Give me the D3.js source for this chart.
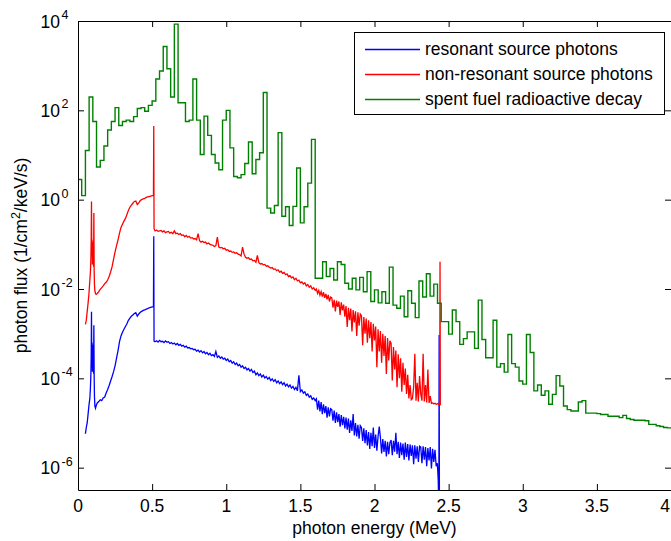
<!DOCTYPE html>
<html>
<head>
<meta charset="utf-8">
<script src="https://cdn.jsdelivr.net/npm/d3@7"></script>
<style>
  body { margin: 0; background: #fff; }
  svg { display: block; font-family: Arial, "Liberation Sans", sans-serif; }
  .axis path, .axis line { stroke: #000; }
</style>
</head>
<body>
<svg id="chart" width="671" height="541"></svg>
<script>
// ---- data (log10 of photon flux, 1/cm^2/keV/s) ----
var xTicks = [0, 0.5, 1, 1.5, 2, 2.5, 3, 3.5, 4];
var yTickExps = [-6, -4, -2, 0, 2, 4];
var seriesNames = ["resonant source photons", "non-resonant source photons", "spent fuel radioactive decay"];
var seriesColors = ["#0000ff", "#ff0000", "#008000"];

// sample energies of the two source spectra (MeV)
var energyLow = [0.050, 0.056, 0.062, 0.068, 0.074, 0.080, 0.084, 0.087, 0.089, 0.091, 0.093, 0.095, 0.097,
                 0.099, 0.101, 0.103, 0.105, 0.107, 0.109, 0.111, 0.114, 0.118, 0.122, 0.126, 0.130];
var energyPeak = [0.505, 0.509, 0.511, 0.513, 0.517];
var energyEdge = [2.424, 2.430, 2.434, 2.436, 2.438, 2.440, 2.442, 2.444];

var resonantLog = [
  // 0.05 - 0.13
  -5.24, -5.10, -5.00, -4.80, -4.60, -4.45, -4.20, -3.90, -3.50, -2.51, -3.70, -3.20, -3.85,
  -3.30, -3.80, -3.25, -3.90, -2.81, -3.95, -4.40, -4.62, -4.67, -4.62, -4.58, -4.55,
  // 0.14 - 0.50
  -4.52, -4.48, -4.50, -4.44, -4.42, -4.33, -4.25, -4.16, -4.06, -3.96,
  -3.85, -3.72, -3.55, -3.38, -3.18, -3.05, -2.97, -2.90, -2.84, -2.78,
  -2.70, -2.65, -2.61, -2.58, -2.55, -2.53, -2.61, -2.56, -2.52, -2.50,
  -2.48, -2.47, -2.45, -2.44, -2.42, -2.41, -2.40,
  // 511 keV
  -2.40, -2.39, -0.82, -3.17, -3.18,
  // 0.52 - 1.60
  -3.18, -3.16, -3.19, -3.15, -3.18, -3.17, -3.20, -3.16, -3.19,
  -3.18, -3.22, -3.20, -3.23, -3.21, -3.25, -3.22, -3.26, -3.24, -3.28,
  -3.26, -3.30, -3.28, -3.32, -3.31, -3.34, -3.33, -3.36, -3.35, -3.39,
  -3.37, -3.41, -3.38, -3.43, -3.40, -3.45, -3.42, -3.47, -3.44, -3.49,
  -3.47, -3.51, -3.40, -3.53, -3.50, -3.55, -3.52, -3.57, -3.55, -3.60,
  -3.57, -3.63, -3.60, -3.66, -3.63, -3.69, -3.66, -3.72, -3.69, -3.75,
  -3.72, -3.78, -3.75, -3.81, -3.78, -3.84, -3.80, -3.87, -3.84, -3.92,
  -3.88, -3.94, -3.90, -3.97, -3.93, -3.99, -3.96, -4.02, -3.98, -4.05,
  -4.01, -4.07, -4.03, -4.10, -4.06, -4.12, -4.08, -4.14, -4.10, -4.17,
  -4.13, -4.19, -4.15, -4.22, -4.18, -4.25, -4.20, -4.28, -3.93, -4.30,
  -4.26, -4.33, -4.30, -4.38, -4.35, -4.42, -4.39, -4.47, -4.44, -4.50,
  // 1.608 - 2.416
  -4.46, -4.70, -4.50, -4.74, -4.53, -4.80, -4.58, -4.78, -4.62, -4.88, -4.65, -4.85, -4.68,
  -4.70, -4.95, -4.72, -5.00, -4.76, -4.98, -4.80, -5.08, -4.82, -5.05, -4.86, -5.12,
  -4.88, -5.15, -4.90, -5.22, -4.94, -5.18, -4.80, -5.28, -5.00, -5.30, -5.04, -5.35, -5.06,
  -5.10, -5.40, -5.12, -5.45, -5.16, -5.50, -5.20, -5.58, -5.22, -5.52, -5.10, -5.56,
  -5.26, -5.62, -5.30, -5.08, -5.33, -5.68, -5.36, -5.65, -5.40, -5.75, -5.42, -5.70, -5.44,
  -5.38, -5.72, -5.40, -5.64, -5.22, -5.70, -5.42, -5.78, -5.44, -5.72, -5.46, -5.82,
  -5.44, -5.76, -5.47, -5.84, -5.48, -5.74, -5.50, -5.92, -5.50, -5.80, -5.52, -5.87, -5.52,
  -5.54, -5.90, -5.52, -5.82, -5.54, -5.97, -5.56, -5.84, -5.54, -6.02, -5.58, -5.87, -5.60, -5.97,
  // edge
  -5.90, -6.30, -7.00, -3.03, -7.00, -7.00, -7.00, -7.00
];

var nonResonantLog = [
  // 0.05 - 0.13
  -2.79, -2.70, -2.50, -2.32, -2.10, -1.80, -1.60, -1.30, -0.90, -0.04, -1.20, -0.90, -1.45,
  -0.95, -1.40, -1.00, -1.50, -0.30, -1.60, -1.90, -2.05, -2.10, -2.12, -2.11, -2.10,
  // 0.14 - 0.50
  -2.06, -2.01, -1.97, -1.93, -1.88, -1.85, -1.80, -1.72, -1.62, -1.50,
  -1.33, -1.17, -1.03, -0.90, -0.75, -0.62, -0.55, -0.48, -0.42, -0.33,
  -0.24, -0.17, -0.12, -0.08, -0.04, -0.03, -0.11, -0.07, -0.02, 0.00,
  0.02, 0.03, 0.05, 0.06, 0.07, 0.08, 0.09,
  // 511 keV
  0.09, 0.10, 1.65, -0.65, -0.68,
  // 0.52 - 1.60
  -0.70, -0.68, -0.71, -0.70, -0.69, -0.72, -0.70, -0.74, -0.72,
  -0.71, -0.75, -0.73, -0.76, -0.70, -0.76, -0.75, -0.78, -0.76, -0.80,
  -0.79, -0.83, -0.80, -0.84, -0.82, -0.86, -0.85, -0.88, -0.87, -0.90,
  -0.76, -0.92, -0.95, -0.93, -0.96, -0.95, -0.99, -0.97, -1.00, -1.01,
  -1.02, -1.05, -1.03, -0.84, -1.06, -1.08, -1.07, -1.10, -1.09, -1.13,
  -1.12, -1.16, -1.15, -1.18, -1.17, -1.20, -1.19, -1.22, -1.23, -1.26,
  -1.06, -1.22, -1.29, -1.31, -1.30, -1.34, -1.33, -1.37, -1.36, -1.40,
  -1.25, -1.41, -1.44, -1.43, -1.46, -1.45, -1.49, -1.48, -1.51, -1.53,
  -1.52, -1.56, -1.55, -1.59, -1.57, -1.62, -1.60, -1.65, -1.63, -1.68,
  -1.66, -1.72, -1.70, -1.75, -1.73, -1.79, -1.76, -1.82, -1.80, -1.86,
  -1.84, -1.89, -1.86, -1.93, -1.90, -1.96, -1.93, -2.00, -1.97, -2.03,
  // 1.608 - 2.416
  -2.00, -2.10, -2.03, -2.14, -2.06, -2.17, -2.07, -2.20, -2.11, -2.23, -2.13, -2.28, -2.18,
  -2.20, -2.42, -2.24, -2.50, -2.26, -2.40, -2.28, -2.58, -2.30, -2.48, -2.35, -2.62,
  -2.38, -2.85, -2.42, -2.70, -2.44, -2.95, -2.47, -2.75, -2.50, -3.05, -2.52, -2.82, -2.56,
  -2.60, -3.26, -2.63, -3.00, -2.66, -3.20, -2.70, -3.10, -2.74, -3.40, -2.78, -3.15,
  -2.84, -3.75, -2.90, -3.40, -2.94, -3.65, -3.00, -3.50, -3.05, -3.90, -3.10, -3.60, -3.16,
  -3.22, -4.05, -3.30, -3.80, -3.38, -4.20, -3.46, -4.00, -3.55, -4.30, -3.65, -4.15,
  -3.78, -4.35, -3.92, -4.45, -4.15, -4.48,
  -4.45, -4.20, -3.45, -4.50, -4.10, -4.52, -3.95, -4.35, -4.50, -3.45, -4.52, -4.15, -4.54,
  -3.80, -4.55, -4.40, -4.56, -4.55, -4.57, -4.56, -4.58,
  // edge
  -4.57, -4.56, -4.58, -4.57, -4.58, -4.58, -1.39, -4.60
];

// spent fuel: histogram with 0.025 MeV bins from 0 to 4 MeV
var decayBinWidth = 0.025;
var decayLog = [
  0.45, 0.09, 1.10, 2.30, 1.75, 0.73, 0.88, 1.20, 1.56, 1.75,
  2.06, 1.66, 1.75, 1.78, 1.75, 1.86, 2.04, 2.06, 1.98, 2.11,
  2.21, 2.70, 2.88, 3.43, 2.93, 2.30, 3.93, 2.17, 2.17, 1.75,
  1.78, 2.70, 1.78, 1.01, 1.87, 1.44, 1.01, 0.82, 0.67, 1.78,
  2.00, 1.16, 0.52, 0.49, 0.56, 0.81, 1.29, 0.58, 0.90, 1.05,
  2.40, -0.19, -0.30, -0.13, 1.50, -0.37, -0.16, -0.58, -0.15, 0.71,
  -0.52, -0.16, 0.37, 1.35, -1.76, -1.76, -1.39, -1.72, -1.54, -1.80,
  -1.39, -1.45, -1.87, -2.00, -1.76, -2.02, -1.74, -2.06, -1.61, -2.28,
  -2.02, -2.31, -2.06, -2.32, -1.51, -2.36, -2.43, -2.16, -2.62, -2.04,
  -2.32, -2.64, -1.82, -2.18, -1.66, -2.16, -1.89, -2.32, -2.73, -2.73,
  -3.01, -2.47, -2.73, -3.24, -3.11, -2.96, -2.96, -3.33, -2.25, -3.13,
  -3.54, -3.54, -2.70, -3.75, -3.67, -3.86, -3.02, -3.67, -3.75, -4.06,
  -4.13, -3.02, -3.42, -4.28, -4.15, -4.38, -4.28, -4.58, -4.36, -3.94,
  -4.17, -4.62, -4.70, -4.73, -4.73, -4.53, -4.50, -4.78, -4.78, -4.78,
  -4.79, -4.81, -4.81, -4.85, -4.85, -4.85, -4.88, -4.83, -4.90, -4.92,
  -4.94, -4.94, -4.94, -4.95, -5.03, -5.03, -5.06, -5.08, -5.10, -5.11
];

// ---- layout ----
var fontSize = 17.5;
var plot = { left: 78, right: 671, top: 21, bottom: 490 };

var svg = d3.select("#chart");

var x = d3.scaleLinear().domain([0, 4]).range([plot.left, plot.right]);
var y = d3.scaleLog().domain([Math.pow(10, -6.5), 1e4]).range([plot.bottom, plot.top]);

function evenGrid(start, step, n) {
  return d3.range(n).map(function (i) { return +(start + i * step).toFixed(3); });
}
var energy = [].concat(energyLow, evenGrid(0.14, 0.01, 37), energyPeak,
                       evenGrid(0.52, 0.01, 109), evenGrid(1.608, 0.008, 102), energyEdge);
if (energy.length !== resonantLog.length || energy.length !== nonResonantLog.length) {
  console.log("length mismatch", energy.length, resonantLog.length, nonResonantLog.length);
}

var resonant = energy.map(function (e, i) { return [e, Math.pow(10, resonantLog[i])]; });
var nonResonant = energy.map(function (e, i) { return [e, Math.pow(10, nonResonantLog[i])]; });
var decay = decayLog.map(function (v, i) { return [i * decayBinWidth, Math.pow(10, v)]; });
decay.push([decayLog.length * decayBinWidth, Math.pow(10, decayLog[decayLog.length - 1])]);

svg.append("defs").append("clipPath").attr("id", "plot-clip")
  .append("rect")
  .attr("x", plot.left).attr("y", plot.top)
  .attr("width", plot.right - plot.left).attr("height", plot.bottom - plot.top);

var line = d3.line().x(function (d) { return x(d[0]); }).y(function (d) { return y(d[1]); });
var stairs = d3.line().curve(d3.curveStepAfter)
  .x(function (d) { return x(d[0]); }).y(function (d) { return y(d[1]); });

var lines = svg.append("g").attr("clip-path", "url(#plot-clip)");
var series = [
  { data: resonant, color: seriesColors[0], width: 1.3, gen: line },
  { data: nonResonant, color: seriesColors[1], width: 1.3, gen: line },
  { data: decay, color: seriesColors[2], width: 1.4, gen: stairs }
];
series.forEach(function (s) {
  lines.append("path")
    .attr("d", s.gen(s.data))
    .attr("fill", "none")
    .attr("stroke", s.color)
    .attr("stroke-width", s.width)
    .attr("stroke-linejoin", "miter");
});

// ---- axes (box with inward ticks) ----
var yTicks = yTickExps.map(function (e) { return Math.pow(10, e); });

svg.append("g").attr("class", "axis")
  .attr("transform", "translate(0," + plot.bottom + ")")
  .call(d3.axisBottom(x).tickValues(xTicks).tickSizeInner(-6).tickSizeOuter(0).tickFormat(""));
svg.append("g").attr("class", "axis")
  .attr("transform", "translate(0," + plot.top + ")")
  .call(d3.axisTop(x).tickValues(xTicks).tickSizeInner(-6).tickSizeOuter(0).tickFormat(""));
svg.append("g").attr("class", "axis")
  .attr("transform", "translate(" + plot.left + ",0)")
  .call(d3.axisLeft(y).tickValues(yTicks).tickSizeInner(-6).tickSizeOuter(0).tickFormat(""));
svg.append("g").attr("class", "axis")
  .attr("transform", "translate(" + plot.right + ",0)")
  .call(d3.axisRight(y).tickValues(yTicks).tickSizeInner(-6).tickSizeOuter(0).tickFormat(""));

// x tick labels (the last one is pulled inside the window edge)
svg.append("g").selectAll("text")
  .data(xTicks)
  .enter().append("text")
  .attr("x", function (d, i) { return i === xTicks.length - 1 ? 670 : x(d); })
  .attr("y", 512)
  .attr("text-anchor", function (d, i) { return i === xTicks.length - 1 ? "end" : "middle"; })
  .attr("font-size", fontSize)
  .text(function (d) { return d; });

// y tick labels as 10^n
var yLab = svg.append("g").selectAll("g")
  .data(yTickExps)
  .enter().append("g");
yLab.append("text")
  .attr("x", 60)
  .attr("y", function (d) { return y(Math.pow(10, d)) + 6.5; })
  .attr("text-anchor", "end")
  .attr("font-size", fontSize)
  .text("10");
yLab.append("text")
  .attr("x", 61.5)
  .attr("y", function (d) { return y(Math.pow(10, d)) - 2; })
  .attr("font-size", 12.5)
  .text(function (d) { return d; });

// axis titles
svg.append("text")
  .attr("x", (plot.left + plot.right) / 2)
  .attr("y", 534)
  .attr("text-anchor", "middle")
  .attr("font-size", fontSize)
  .text("photon energy (MeV)");

var yTitle = svg.append("text")
  .attr("transform", "translate(27," + (plot.top + plot.bottom) / 2 + ") rotate(-90)")
  .attr("text-anchor", "middle")
  .attr("font-size", fontSize);
yTitle.append("tspan").text("photon flux (1/cm");
yTitle.append("tspan").attr("font-size", 12.5).attr("dy", -7).text("2");
yTitle.append("tspan").attr("dy", 7).text("/keV/s)");

// ---- legend ----
var legend = svg.append("g");
legend.append("rect")
  .attr("x", 354.5).attr("y", 32.5)
  .attr("width", 310).attr("height", 82)
  .attr("fill", "#fff").attr("stroke", "#000").attr("stroke-width", 1);
seriesNames.forEach(function (name, i) {
  var rowY = 49 + i * 25;
  legend.append("line")
    .attr("x1", 365).attr("x2", 420)
    .attr("y1", rowY + 0.5).attr("y2", rowY + 0.5)
    .attr("stroke", seriesColors[i])
    .attr("stroke-width", 1.3);
  legend.append("text")
    .attr("x", 425).attr("y", rowY + 6)
    .attr("font-size", fontSize)
    .text(name);
});
</script>
</body>
</html>
